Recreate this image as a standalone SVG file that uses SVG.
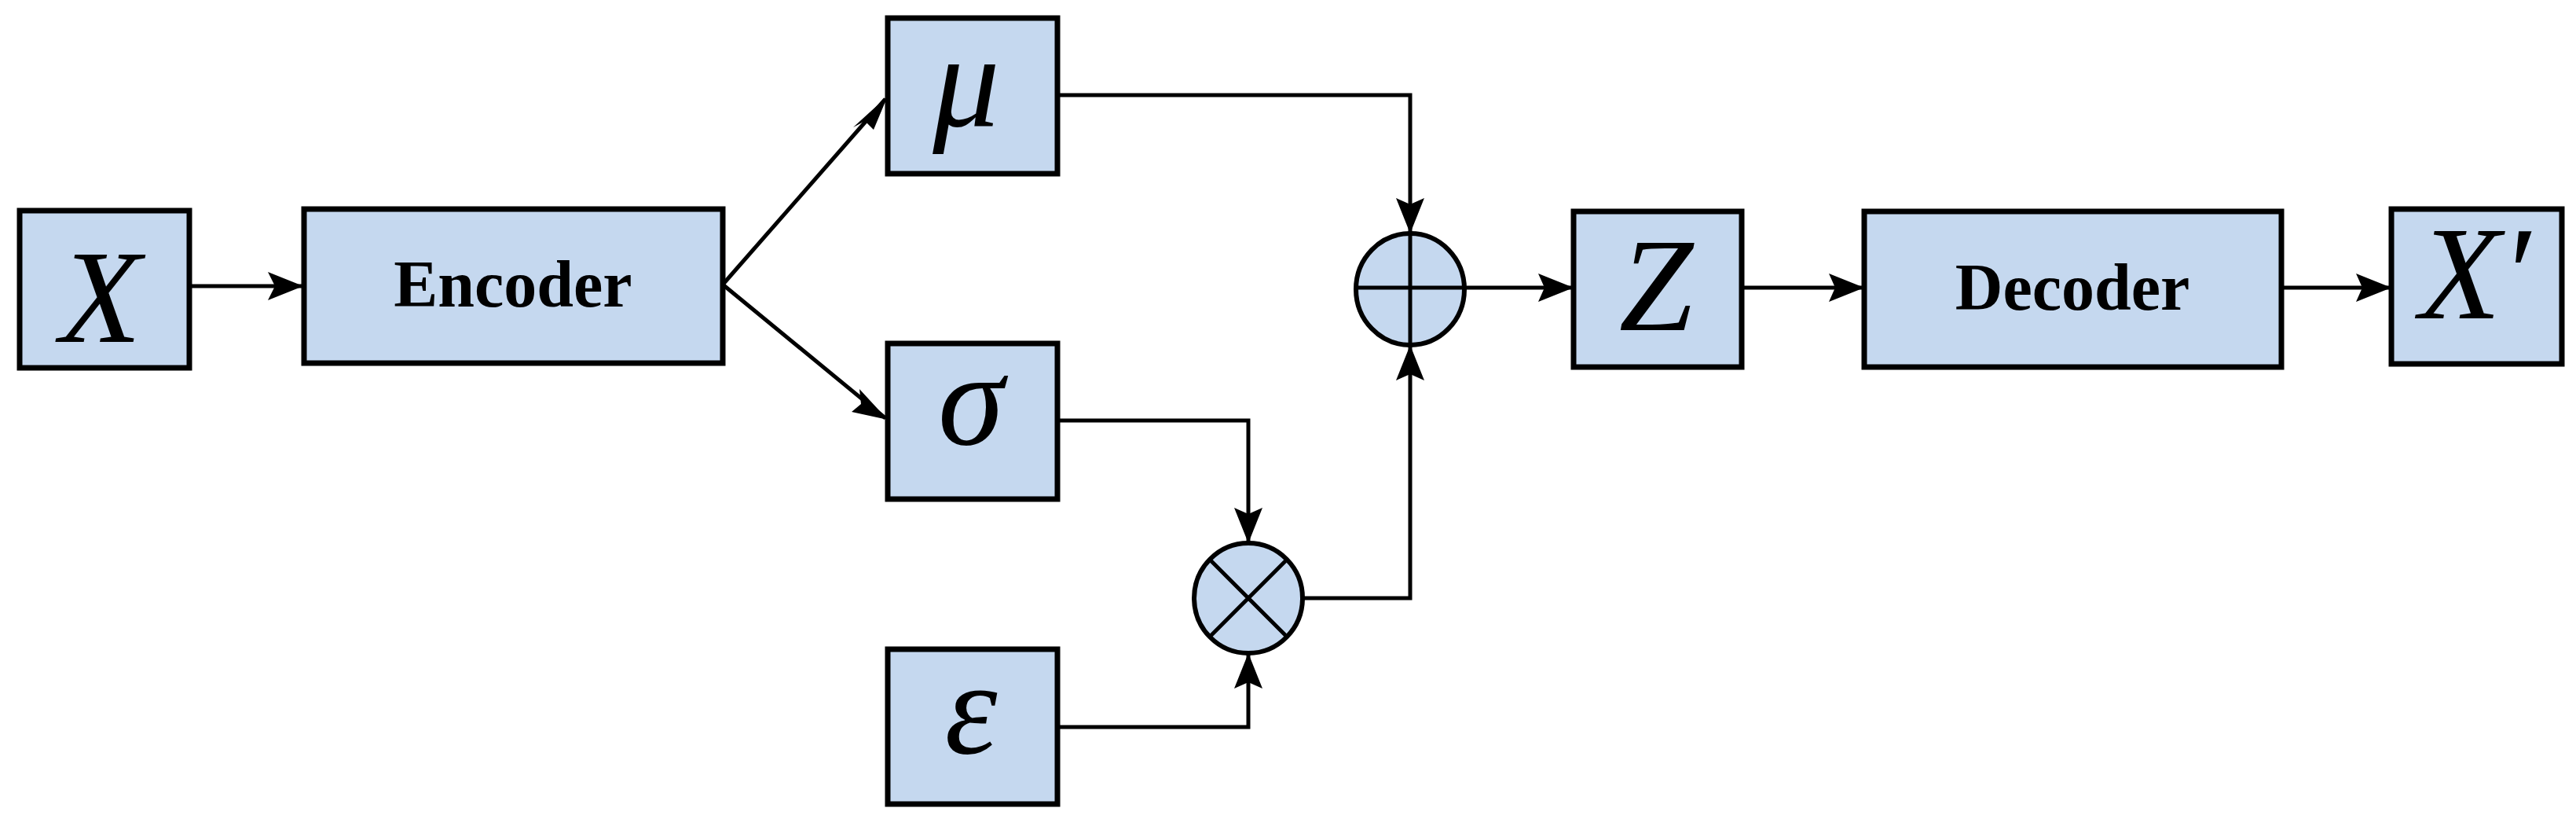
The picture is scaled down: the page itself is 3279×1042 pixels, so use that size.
<svg xmlns="http://www.w3.org/2000/svg" width="3279" height="1042" viewBox="0 0 3279 1042">
<style>
.box{fill:#c5d8ef;stroke:#000;stroke-width:7}
.ln{fill:none;stroke:#000;stroke-width:5;marker-end:url(#ah)}
.ln2{fill:none;stroke:#000;stroke-width:5}
.m{font-family:"Liberation Serif",serif;font-style:italic;font-size:170px;text-anchor:middle}
.t{font-family:"Liberation Serif",serif;font-weight:bold;font-size:84px;text-anchor:middle}
</style>
<defs>
<marker id="ah" markerWidth="10" markerHeight="8" refX="10" refY="4" orient="auto" markerUnits="userSpaceOnUse" viewBox="0 0 10 8">
<path d="M0,0 L10,4 L0,8 L2.5,4 Z" fill="#000"/>
</marker>
</defs>
<rect width="3279" height="1042" fill="#fff"/>
<g id="connectors">
<path class="ln" d="M241,364 H384" style="marker-end:none"/>
<path d="M341,346 L386,364 L341,382 L350,364 Z"/>
<path class="ln2" d="M920,362 L1127,126"/>
<path d="M1130,122 L1112,165 L1101,154 L1086,162 Z" transform="rotate(0)"/>
<path class="ln2" d="M920,362 L1127,532"/>
<path class="ln2" d="M1346,121 H1795 V297"/>
<path d="M1777,252 L1795,297 L1813,252 L1795,260 Z"/>
<path class="ln2" d="M1346,535 H1589 V691"/>
<path d="M1571,646 L1589,691 L1607,646 L1589,654 Z"/>
<path class="ln2" d="M1346,925 H1589 V831"/>
<path d="M1571,876 L1589,831 L1607,876 L1589,868 Z"/>
<path class="ln2" d="M1658,761 H1795 V439"/>
<path d="M1777,484 L1795,439 L1813,484 L1795,476 Z"/>
<path class="ln2" d="M1865,366 H2003"/>
<path d="M1958,348 L2003,366 L1958,384 L1966,366 Z"/>
<path class="ln2" d="M2217,366 H2373"/>
<path d="M2328,348 L2373,366 L2328,384 L2336,366 Z"/>
<path class="ln2" d="M2904,366 H3044"/>
<path d="M2999,348 L3044,366 L2999,384 L3007,366 Z"/>
<path d="M1130,534 L1084,524 L1096,514 L1094,495 Z"/>
</g>
<g id="X"><rect class="box" x="25" y="268" width="216" height="200"/><text class="m" x="128" y="435">X</text></g>
<g id="encoder"><rect class="box" x="387" y="266" width="533" height="196"/><text class="t" x="653" y="390">Encoder</text></g>
<g id="mu"><rect class="box" x="1130" y="23" width="216" height="198"/><text class="m" x="1230" y="160" font-size="150">μ</text></g>
<g id="sigma"><rect class="box" x="1130" y="437" width="216" height="198"/><text class="m" x="1236" y="565" font-size="150">σ</text></g>
<g id="epsilon"><rect class="box" x="1130" y="826" width="216" height="197"/><text class="m" x="1236" y="958" font-size="150">ε</text></g>
<g id="plus"><ellipse cx="1795" cy="368" rx="69" ry="71" fill="#c5d8ef" stroke="#000" stroke-width="6"/><path d="M1726,366 H1864 M1795,297 V439" stroke="#000" stroke-width="5"/></g>
<g id="times"><ellipse cx="1589" cy="761" rx="69" ry="70" fill="#c5d8ef" stroke="#000" stroke-width="6"/><path d="M1540,712 L1638,810 M1638,712 L1540,810" stroke="#000" stroke-width="5"/></g>
<g id="Z"><rect class="box" x="2003" y="269" width="214" height="198"/><text class="m" x="2108" y="420">Z</text></g>
<g id="decoder"><rect class="box" x="2373" y="269" width="531" height="198"/><text class="t" x="2638" y="394">Decoder</text></g>
<g id="Xp"><rect class="box" x="3044" y="266" width="217" height="197"/><text class="m" x="3150" y="405" font-size="150">X′</text></g>
</svg>
